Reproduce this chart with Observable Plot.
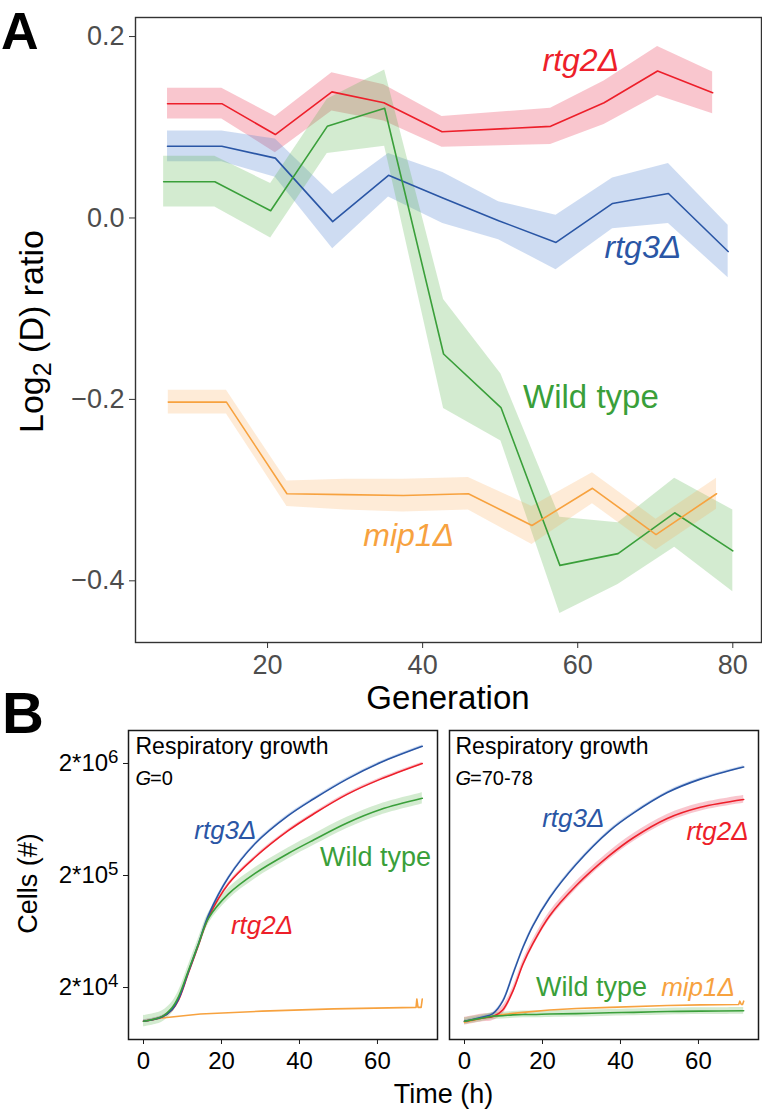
<!DOCTYPE html>
<html><head><meta charset="utf-8">
<script src="https://cdn.jsdelivr.net/npm/d3@7"></script>
<script src="https://cdn.jsdelivr.net/npm/@observablehq/plot@0.6"></script>
<style>
body{margin:0;background:#fff;}
#root{position:relative;width:762px;height:1112px;overflow:hidden;background:#fff;}
#root > *{position:absolute;}
</style></head><body><div id="root"></div>
<script>
const FONT = '"Liberation Sans", Arial, Helvetica, sans-serif';

// ---------- Panel A data (Log2 (D) ratio vs generation) ----------
const strains = ["rtg2Δ", "rtg3Δ", "Wild type", "mip1Δ"];
const colors  = ["#ED1F2A", "#2A56A5", "#3A9F3A", "#F7A23F"];
const bandColors = ["#E8344E", "#4F82D0", "#5BB450", "#F9A54A"];
const bandOpacity = [0.28, 0.28, 0.27, 0.22];

const genRtg2 = [7.1, 14.1, 21.0, 28.3, 35.0, 42.5, 56.5, 63.4, 70.3, 77.4];
const valRtg2 = [0.126, 0.126, 0.092, 0.139, 0.127, 0.095, 0.101, 0.127, 0.162, 0.138];
const ciRtg2  = [0.017, 0.017, 0.020, 0.021, 0.020, 0.017, 0.020, 0.024, 0.027, 0.023];

const genRtg3 = [7.1, 14.1, 21.0, 28.4, 35.6, 42.6, 49.8, 57.2, 64.5, 71.7, 79.4];
const valRtg3 = [0.079, 0.079, 0.066, -0.004, 0.047, 0.022, -0.003, -0.027, 0.016, 0.027, -0.037];
const ciRtg3  = [0.017, 0.017, 0.021, 0.030, 0.024, 0.028, 0.021, 0.030, 0.028, 0.033, 0.029];

const genWt = [6.6, 13.2, 20.4, 27.7, 35.1, 42.7, 50.1, 57.7, 65.2, 72.5, 80.0];
const valWt = [0.040, 0.040, 0.008, 0.101, 0.121, -0.150, -0.209, -0.383, -0.370, -0.325, -0.367];
const ciWt  = [0.028, 0.028, 0.030, 0.030, 0.042, 0.060, 0.037, 0.053, 0.034, 0.038, 0.045];

const genMip1 = [7.2, 14.7, 22.5, 30.0, 37.5, 45.9, 54.1, 61.9, 70.1, 77.9];
const valMip1 = [-0.203, -0.203, -0.304, -0.305, -0.306, -0.304, -0.339, -0.298, -0.349, -0.304];
const ciMip1  = [0.013, 0.013, 0.014, 0.017, 0.018, 0.018, 0.021, 0.017, 0.017, 0.017];

const labelsA = [
  {strain: "rtg2Δ", gen: 60.4, v: 0.173},
  {strain: "rtg3Δ", gen: 68.4, v: -0.033},
  {strain: "Wild type", gen: 61.7, v: -0.198},
  {strain: "mip1Δ", gen: 38.2, v: -0.350}
];
const ticksAx = [20, 40, 60, 80];
const ticksAy = [-0.4, -0.2, 0, 0.2];

// ---------- Panel B data (cells vs time, h) ----------
const timeG0 = [0, 4.7, 7.3, 9, 11.5, 14.1, 16.7, 21.8, 28.6, 37.2, 43.7, 52.2, 60.8, 71.5];
const g0Rtg3 = [10000, 10900, 12700, 15800, 27500, 49000, 89100, 193000, 384000, 687000, 968000, 1450000, 2040000, 2850000];
const g0Rtg2 = [10000, 10900, 12600, 15500, 26900, 47900, 85100, 169000, 291000, 505000, 711000, 1060000, 1450000, 2000000];
const g0Wt   = [10000, 11000, 13200, 16600, 28200, 49000, 83200, 137000, 209000, 316000, 417000, 589000, 776000, 977000];
const timeG0Mip1 = [0, 4.7, 14.6, 30.4, 48.8, 69.9, 70.1, 70.4, 71.2, 71.5];
const g0Mip1     = [10000, 10700, 11600, 12300, 12900, 13300, 15800, 13300, 13300, 15800];

const timeG70 = [0, 4.7, 7.3, 9.8, 12.4, 15, 17.5, 21.8, 28.6, 37.2, 43.4, 52, 60.5, 71.6];
const g70Rtg3 = [10000, 10900, 11700, 15100, 26300, 45700, 70800, 126000, 251000, 501000, 724000, 1100000, 1450000, 1860000];
const g70Rtg2 = [10000, 10700, 11000, 12600, 18600, 32400, 49000, 87100, 162000, 302000, 437000, 646000, 813000, 955000];
const g70Wt   = [10000, 10700, 11100, 11200, 11400, 11500, 11500, 11600, 11700, 11900, 12000, 12200, 12300, 12400];
const timeG70Mip1 = [0, 4.7, 9.8, 15, 21.8, 28.6, 37.2, 52, 60.5, 70.3, 70.6, 71.0, 71.3, 71.6];
const g70Mip1     = [9800, 10700, 11500, 12000, 12600, 13000, 13300, 13800, 14000, 14100, 15100, 14100, 14100, 15100];

// band half-widths (log10 units) per strain: rtg2, rtg3, wt, mip1
const bandG0  = [0.012, 0.012, 0.050, 0.010];
const bandG70 = [0.035, 0.012, 0.030, 0.015];

const labelsG0 = [
  {strain: "rtg3Δ", t: 21.0, n: 498000},
  {strain: "Wild type", t: 59.5, n: 293000},
  {strain: "rtg2Δ", t: 30.4, n: 71900}
];
const labelsG70 = [
  {strain: "rtg3Δ", t: 27.9, n: 637000},
  {strain: "rtg2Δ", t: 64.9, n: 488000},
  {strain: "Wild type", t: 32.6, n: 20200},
  {strain: "mip1Δ", t: 59.9, n: 20000}
];
const ticksBx = [0, 20, 40, 60];
const ticksBy = [2e4, 2e5, 2e6];

// ---------- build tables ----------
function seriesA(strain, gen, val, ci) {
  return gen.map((g, i) => ({strain, gen: g, v: val[i], lo: val[i] - ci[i], hi: val[i] + ci[i]}));
}
const rowsA = [
  ...seriesA("rtg2Δ", genRtg2, valRtg2, ciRtg2),
  ...seriesA("rtg3Δ", genRtg3, valRtg3, ciRtg3),
  ...seriesA("Wild type", genWt, valWt, ciWt),
  ...seriesA("mip1Δ", genMip1, valMip1, ciMip1)
];
function seriesB(strain, time, n, b) {
  const f = Math.pow(10, b);
  return time.map((t, i) => ({strain, t, n: n[i], lo: n[i] / f, hi: n[i] * f}));
}
const rowsG0 = [
  ...seriesB("rtg2Δ", timeG0, g0Rtg2, bandG0[0]),
  ...seriesB("rtg3Δ", timeG0, g0Rtg3, bandG0[1]),
  ...seriesB("Wild type", timeG0, g0Wt, bandG0[2]),
  ...seriesB("mip1Δ", timeG0Mip1, g0Mip1, bandG0[3])
];
const rowsG70 = [
  ...seriesB("rtg2Δ", timeG70, g70Rtg2, bandG70[0]),
  ...seriesB("rtg3Δ", timeG70, g70Rtg3, bandG70[1]),
  ...seriesB("Wild type", timeG70, g70Wt, bandG70[2]),
  ...seriesB("mip1Δ", timeG70Mip1, g70Mip1, bandG70[3])
];

const colorScale = {domain: strains, range: colors};
const root = document.getElementById("root");

function bandMarks(rows, xk, curve) {
  return strains.map((s, i) => Plot.areaY(rows.filter(d => d.strain === s),
    {x: xk, y1: "lo", y2: "hi", fill: bandColors[i], fillOpacity: bandOpacity[i], curve}));
}

// ---------- Panel A ----------
const plotA = Plot.plot({
  width: 762, height: 715,
  marginLeft: 135, marginRight: 1, marginTop: 17, marginBottom: 73,
  style: {fontFamily: FONT, background: "transparent", overflow: "visible"},
  x: {domain: [2.97, 83.7]},
  y: {domain: [-0.468, 0.221]},
  color: colorScale,
  marks: [
    ...bandMarks(rowsA, "gen", "linear"),
    Plot.lineY(rowsA, {x: "gen", y: "v", z: "strain", stroke: "strain", strokeWidth: 1.6}),
    Plot.frame({stroke: "#333", strokeWidth: 1.4}),
    Plot.axisX({ticks: ticksAx, tickSize: 6, tickPadding: 6, fontSize: 27, stroke: "#333", fill: "#4d4d4d", label: null}),
    Plot.axisY({ticks: ticksAy, tickFormat: d3.format(".1f"), tickSize: 6, tickPadding: 5, fontSize: 27, stroke: "#333", fill: "#4d4d4d", label: null}),
    Plot.text(labelsA.filter(d => d.strain !== "Wild type"), {x: "gen", y: "v", text: "strain", fill: "strain", fontSize: 32, fontStyle: "italic"}),
    Plot.text(labelsA.filter(d => d.strain === "Wild type"), {x: "gen", y: "v", text: "strain", fill: "strain", fontSize: 33})
  ]
});
plotA.style.left = "0px"; plotA.style.top = "0px";
root.appendChild(plotA);

// ---------- Panel B ----------
function fmtB(n) { return "2*10^" + Math.round(Math.log10(n / 2)); }

function makeB(rows, labels, gtext, {width, marginLeft, marginRight, showY, dx}) {
  return Plot.plot({
    width, height: 412, marginLeft, marginRight, marginTop: 30, marginBottom: 73,
    style: {fontFamily: FONT, background: "transparent", overflow: "visible"},
    x: {domain: [-3.85, 75.4]},
    y: {type: "log", domain: [6870, 3.94e6], axis: showY ? undefined : null},
    color: colorScale,
    marks: [
      ...bandMarks(rows.filter(d => d.strain !== "mip1Δ"), "t", "catmull-rom"),
      Plot.lineY(rows.filter(d => d.strain === "mip1Δ"), {x: "t", y: "n", stroke: "strain", strokeWidth: 1.6}),
      Plot.lineY(rows.filter(d => d.strain !== "mip1Δ"), {x: "t", y: "n", z: "strain", stroke: "strain", strokeWidth: 1.6, curve: "catmull-rom"}),
      Plot.frame({stroke: "#1a1a1a", strokeWidth: 1.5}),
      Plot.axisX({ticks: ticksBx, tickSize: 5, tickPadding: 7, fontSize: 24, stroke: "#1a1a1a", fill: "#000", label: null}),
      showY ? Plot.axisY({ticks: ticksBy, tickFormat: fmtB, tickSize: 5, tickPadding: 5, fontSize: 24, stroke: "#1a1a1a", fill: "#000", label: null}) : null,
      Plot.text(["Respiratory growth"], {text: d => d, frameAnchor: "top-left", textAnchor: "start", lineAnchor: "top", dx, dy: 7, fontSize: 23, fill: "#000"}),
      Plot.text(["G"], {text: d => d, frameAnchor: "top-left", textAnchor: "start", lineAnchor: "top", dx, dy: 40, fontSize: 20, fontStyle: "italic", fill: "#000"}),
      Plot.text([gtext], {text: d => d, frameAnchor: "top-left", textAnchor: "start", lineAnchor: "top", dx: dx + 14.5, dy: 40, fontSize: 20, fill: "#000"}),
      Plot.text(labels.filter(d => d.strain !== "Wild type"), {x: "t", y: "n", text: "strain", fill: "strain", fontSize: 26, fontStyle: "italic"}),
      Plot.text(labels.filter(d => d.strain === "Wild type"), {x: "t", y: "n", text: "strain", fill: "strain", fontSize: 27})
    ]
  });
}
function superscriptTicks(svg) {
  d3.select(svg).selectAll("text").each(function () {
    const m = /^2\*10\^(\d)$/.exec(this.textContent);
    if (m) {
      const s = d3.select(this);
      s.text("2*10");
      s.append("tspan").attr("dy", "-0.45em").attr("font-size", "0.78em").text(m[1]);
    }
  });
}
const plotB0 = makeB(rowsG0, labelsG0, "=0", {width: 440, marginLeft: 128, marginRight: 3, showY: true, dx: 7});
superscriptTicks(plotB0);
plotB0.style.left = "0px"; plotB0.style.top = "700px";
root.appendChild(plotB0);
const plotB70 = makeB(rowsG70, labelsG70, "=70-78", {width: 322, marginLeft: 9, marginRight: 4, showY: false, dx: 6});
plotB70.style.left = "440px"; plotB70.style.top = "700px";
root.appendChild(plotB70);

// ---------- overlay titles ----------
const ov = d3.select(root).append("svg")
  .attr("width", 762).attr("height", 1112)
  .style("left", "0px").style("top", "0px").style("pointer-events", "none")
  .style("font-family", FONT);
ov.append("text").attr("x", 1).attr("y", 49).attr("font-size", 52).attr("font-weight", "bold").text("A");
ov.append("text").attr("x", 2).attr("y", 733).attr("font-size", 58).attr("font-weight", "bold").text("B");
ov.append("text").attr("x", 448).attr("y", 709).attr("font-size", 33).attr("text-anchor", "middle").text("Generation");
const yl = ov.append("text").attr("transform", "translate(43,433) rotate(-90)").attr("font-size", 34).attr("text-anchor", "start");
yl.append("tspan").text("Log");
yl.append("tspan").attr("font-size", 25).attr("dy", 8).text("2");
yl.append("tspan").attr("dy", -8).text(" (D) ratio");
ov.append("text").attr("transform", "translate(37,883.5) rotate(-90)").attr("font-size", 27).attr("text-anchor", "middle").text("Cells (#)");
ov.append("text").attr("x", 443.5).attr("y", 1103).attr("font-size", 27).attr("text-anchor", "middle").text("Time (h)");
</script></body></html>
